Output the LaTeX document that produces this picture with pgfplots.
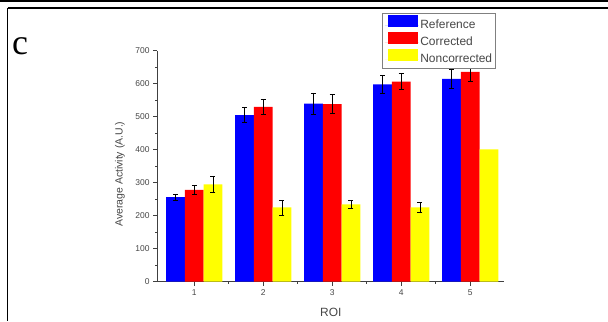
\documentclass[border=0pt]{standalone}
\usepackage{pgfplots}
\usepackage{pgfplotstable}
\pgfplotsset{compat=1.18}
\usepackage{fontspec}
\setmainfont{Liberation Sans}
\newfontfamily\seriffont{Liberation Serif}

\pgfplotstableread{
x ref refe cor core non none
1 256 9 278 14 295 24
2 505 22 530 23 225 23
3 540 32 538 29 234 13
4 598 27 606 24 225 14
5 615 30 636 28 401 0
}\data

\pgfplotstableread{
x non none
1 295 24
2 225 23
3 234 13
4 225 14
}\nonerr

\definecolor{cblue}{RGB}{0,0,255}
\definecolor{cred}{RGB}{255,0,0}
\definecolor{cyellow}{RGB}{255,255,0}
\definecolor{txt}{RGB}{70,70,70}

\begin{document}
\begin{tikzpicture}[x=1bp,y=1bp]
\useasboundingbox (0,0) rectangle (608,321);
\draw[line width=1.5bp] (0,320.2) -- (608,320.2);
\draw[line width=1.3bp] (7.7,313) -- (608,313);
\draw[line width=1.3bp] (7.7,313) -- (7.7,0);
\node[font=\seriffont\fontsize{36}{36}\selectfont, anchor=base west, inner sep=0pt] at (12bp,266bp) {c};
\begin{axis}[
  at={(157bp,39.3bp)}, anchor=south west,
  scale only axis, width=347bp, height=231bp,
  xmin=0.46, xmax=5.49, ymin=0, ymax=700,
  axis lines*=left,
  axis line style={black!75, line width=0.6bp},
  tick style={black!75, line width=0.6bp},
  tick align=outside,
  major tick length=4bp, minor tick length=2bp,
  xtick={1,2,3,4,5}, minor x tick num=1,
  ytick distance=100, minor y tick num=1,
  ticklabel style={font=\fontsize{8.5}{9}\selectfont, text=txt},
  /pgf/number format/assume math mode=true,
  ylabel={Average Activity (A.U.)},
  xlabel={ROI},
  ylabel style={font=\fontsize{10.5}{11}\selectfont, text=txt,
    at={(axis description cs:-0.107,0.466)}, anchor=center},
  xlabel style={font=\fontsize{12}{12}\selectfont, text=txt,
    at={(axis description cs:0.501,-0.131)}, anchor=center},
  ybar=0pt, bar width=18.7bp,
  legend style={at={(0.977,1.163)}, anchor=north east, draw=black!50, line width=0.8bp,
    font=\fontsize{12}{12}\selectfont, text=txt, inner sep=2bp,
    nodes={inner sep=1.5bp, text height=8.7bp, text depth=2.3bp},
    row sep=0bp, cells={anchor=west}},
  legend image code/.code={\path (0bp,0bp) -- (34bp,0bp); \fill[#1] (3.5bp,-1.6bp) rectangle (33.5bp,10bp);},
  error bars/error bar style={black, line width=0.7bp},
  error bars/error mark options={rotate=90, mark size=2.5bp, black, line width=0.7bp},
]
\addplot[fill=cblue, draw=none, bar shift=-18.7bp, error bars/.cd, y dir=both, y explicit]
  table[x=x, y=ref, y error=refe] \data;
\addplot[fill=cred, draw=none, bar shift=0bp, error bars/.cd, y dir=both, y explicit]
  table[x=x, y=cor, y error=core] \data;
\addplot[fill=cyellow, draw=none, bar shift=18.7bp]
  table[x=x, y=non] \data;
\addplot[forget plot, fill=none, draw=none, bar shift=18.7bp, error bars/.cd, y dir=both, y explicit]
  table[x=x, y=non, y error=none] \nonerr;
\legend{Reference, Corrected, Noncorrected}
\end{axis}
\end{tikzpicture}
\end{document}
